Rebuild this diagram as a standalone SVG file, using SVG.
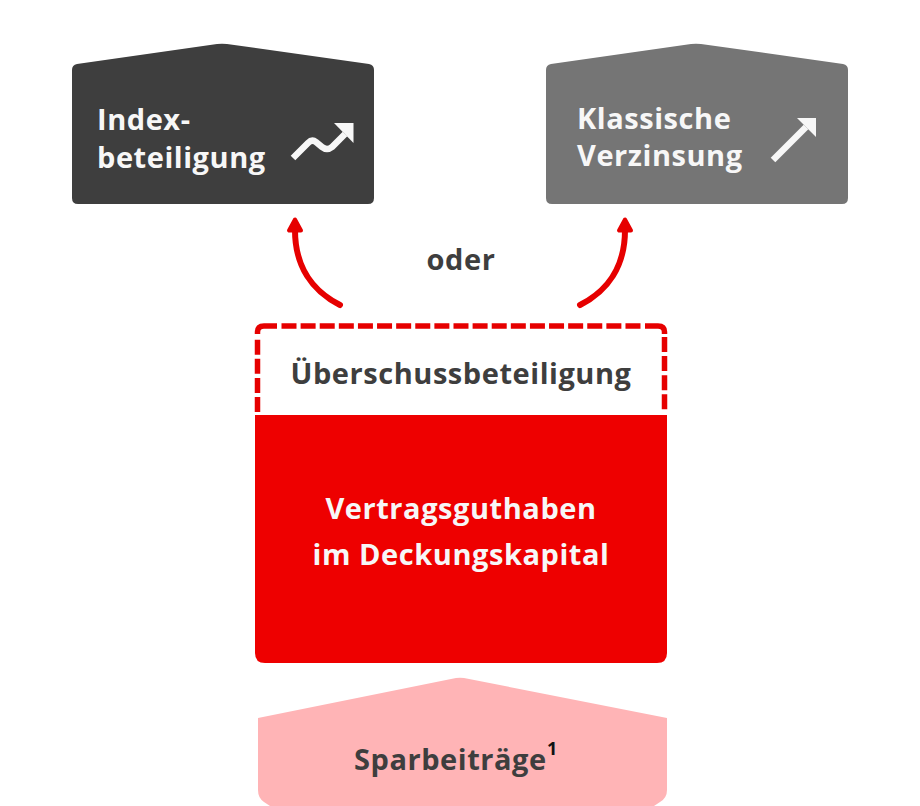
<svg xmlns="http://www.w3.org/2000/svg" width="920" height="806" viewBox="0 0 920 806">
<style>
text{font-family:"Open Sans","Noto Sans","Liberation Sans",sans-serif;font-weight:700;font-size:29px;letter-spacing:0.55px}
.w{fill:#f7f7f7}.d{fill:#3e3e3e}.c{text-anchor:middle}
.ic{fill:none;stroke:#f7f7f7;stroke-width:6.500}
.ar{fill:none;stroke:#e60000;stroke-width:6;stroke-linecap:round}
.da{fill:none;stroke:#e60000;stroke-width:5.500}
.ds{stroke-dasharray:15 4.110}
.hd{fill:#e60000;stroke:#e60000;stroke-width:4;stroke-linejoin:round}
</style>
<rect width="920" height="806" fill="#fff"/>
<g id="index">
<path d="M77 64L217 44Q222 43.500 227 44L369 64Q374 65 374 70V198Q374 204 368 204H78Q72 204 72 198V70Q72 65 77 64Z" fill="#3e3e3e"/>
<text class="w" x="97" y="130">Index-</text><text class="w" x="97" y="168">beteiligung</text>
<path class="ic" d="M293 158L308 143Q312 139 316 142L322 147Q327 151 332 147L345 134"/>
<path d="M334 123H353.500V143Z" fill="#f7f7f7"/>
</g>
<g id="klassisch">
<path d="M551 64L691 44Q696 43.500 701 44L843 64Q848 65 848 70V198Q848 204 842 204H552Q546 204 546 198V70Q546 65 551 64Z" fill="#757575"/>
<text class="w" x="577" y="129">Klassische</text><text class="w" x="577" y="166">Verzinsung</text>
<path class="ic" d="M773 160L806 127"/>
<path d="M797 118H816V137Z" fill="#f7f7f7"/>
</g>
<g id="connectors">
<path class="ar" d="M340 305C312 291 295 266 295 230"/>
<path class="hd" d="M295 219.500L289 230.500H301Z"/>
<path class="ar" d="M580 305C608 291 625 266 625 230"/>
<path class="hd" d="M625 219.500L619 230.500H631Z"/>
</g>
<text class="d c" x="461" y="270">oder</text>
<g id="ueberschuss">
<path class="da ds" d="M257.500 412V337"/>
<path class="da" d="M257.500 334V332Q257.500 326 264 326H277"/>
<path class="da ds" d="M281.500 326H640.500"/>
<path class="da" d="M645 326H658Q664.500 326 664.500 332V334"/>
<path class="da ds" d="M664.500 337V412"/>
<text class="d c" x="461" y="384">Überschussbeteiligung</text>
</g>
<g id="vertragsguthaben">
<path d="M255 415H667V653Q667 663 657 663H265Q255 663 255 653Z" fill="#ee0000"/>
<text class="w c" x="461" y="519">Vertragsguthaben</text><text class="w c" x="461" y="565">im Deckungskapital</text>
</g>
<g id="sparbeitraege">
<path d="M258 718L456 678Q460 677.500 464 678L667 718V790Q667 798 660 802L654 806H270L264 802Q258 798 258 790Z" fill="#ffb4b6"/>
<text class="d" x="354" y="770">Sparbeiträge</text>
<text x="547" y="755" style="font-size:18px;fill:#111;letter-spacing:0">1</text>
</g>
</svg>
